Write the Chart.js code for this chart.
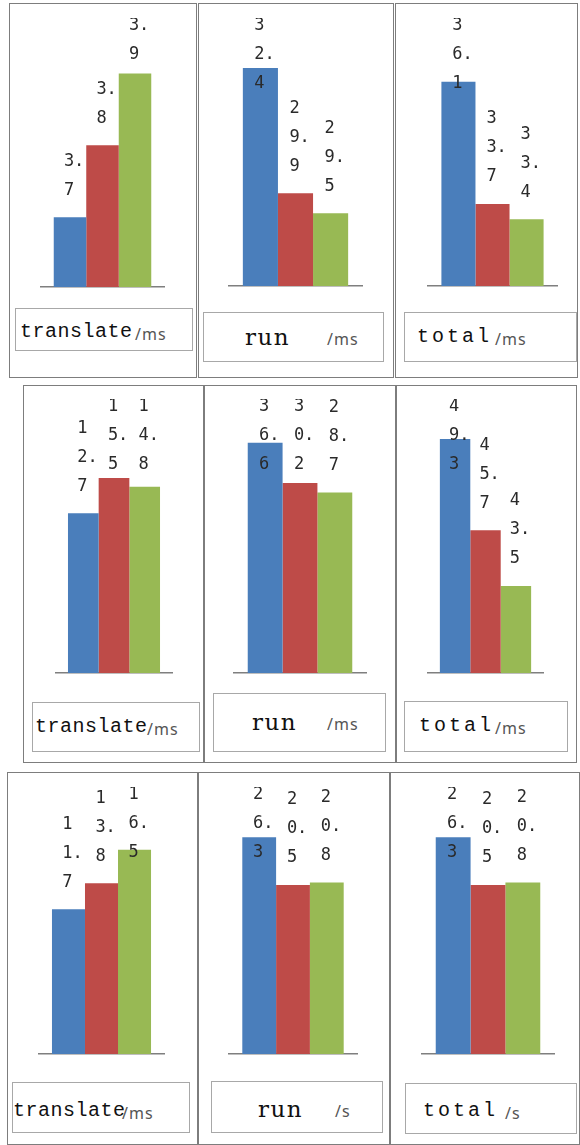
<!DOCTYPE html>
<html>
<head>
<meta charset="utf-8">
<script src="https://cdn.jsdelivr.net/npm/chart.js@4.4.1/dist/chart.umd.min.js"></script>
<style>
  html, body { margin: 0; padding: 0; background: #fff; }
  body { width: 580px; height: 1145px; position: relative; overflow: hidden; }
  .frame { position: absolute; box-sizing: border-box; border: 1px solid #7d7d7d; }
  .cap { position: absolute; box-sizing: border-box; border: 1px solid #a8a8a8; }
  .word { position: absolute; white-space: nowrap; line-height: 1; transform: translateY(-50%);
          font-family: "Liberation Mono", monospace; font-size: 20px; color: #111; }
  .word.serif { font-family: "DejaVu Serif", serif; font-size: 23px; letter-spacing: 1.5px; }
  .unit { position: absolute; white-space: nowrap; line-height: 1; transform: translateY(-50%);
          font-family: "Noto Sans", sans-serif; font-size: 16px; color: #555; letter-spacing: 1px; }
  canvas { position: absolute; }
</style>
</head>
<body>
<script>
// Nine small panels, read left to right, top to bottom.
const metricNames = ['translate', 'run', 'total', 'translate', 'run', 'total', 'translate', 'run', 'total'];
const unitNames   = ['ms', 'ms', 'ms', 'ms', 'ms', 'ms', 'ms', 's', 's'];

const blueSeries  = [3.7, 32.4, 36.1, 12.7, 36.6, 49.3, 11.7, 26.3, 26.3];
const redSeries   = [3.8, 29.9, 33.7, 15.5, 30.2, 45.7, 13.8, 20.5, 20.5];
const greenSeries = [3.9, 29.5, 33.4, 14.8, 28.7, 43.5, 16.5, 20.8, 20.8];

// value-axis range of each panel (the axis itself is hidden)
const axisMin = [3.603, 28.05, 32.09, 0, 0, 40.06, 0, 0, 0];
const axisMax = [3.977, 33.40, 37.35, 21.78, 43.56, 50.88, 21.57, 32.4, 32.4];

const seriesColors = ['#4a7ebb', '#be4b48', '#98b954'];

// page layout of each panel: frame box, plot box (left, top, width, baseline), caption box, caption text spots
const layout = [
  { frame: [9, 3, 188, 375],   plot: [40, 18, 125, 287],   cap: [15, 308, 178, 43],  word: [20, 332],  unit: [135, 334] },
  { frame: [198, 3, 196, 375], plot: [228, 18, 135, 286],  cap: [203, 312, 181, 50], word: [245, 337], unit: [327, 339] },
  { frame: [395, 3, 183, 375], plot: [427, 18, 131, 286],  cap: [404, 312, 173, 50], word: [417, 337], unit: [495, 339] },
  { frame: [23, 385, 181, 378],  plot: [55, 399, 118, 673],  cap: [32, 702, 168, 50],  word: [35, 727],  unit: [147, 729] },
  { frame: [204, 385, 192, 378], plot: [233, 399, 134, 673], cap: [213, 693, 173, 59], word: [252, 722], unit: [327, 724] },
  { frame: [396, 385, 181, 378], plot: [427, 399, 117, 673], cap: [404, 701, 164, 51], word: [419, 726], unit: [495, 728] },
  { frame: [7, 772, 191, 373],   plot: [38, 787, 127, 1054],  cap: [12, 1082, 178, 51], word: [13, 1111],  unit: [122, 1113] },
  { frame: [198, 772, 192, 373], plot: [228, 787, 130, 1054], cap: [211, 1081, 172, 52], word: [258, 1109], unit: [335, 1111] },
  { frame: [390, 772, 190, 373], plot: [421, 787, 134, 1054], cap: [405, 1083, 172, 51], word: [423, 1111], unit: [505, 1113] }
];

const LINE_STEP = 29;   // vertical distance between wrapped label lines
const LABEL_GAP = 27;   // distance from bar top to the centre of the last label line
const FIRST_MIN = 8;    // first line centre never sits higher than plot top + this

// Data labels are wrapped to a narrow column: one digit per line, the decimal point rides with its digit.
function wrapLabel(v) {
  const out = [];
  for (const ch of v.toFixed(1)) {
    if (ch === '.' && out.length) out[out.length - 1] += '.';
    else out.push(ch);
  }
  return out;
}

const valueLabels = {
  id: 'valueLabels',
  afterDatasetsDraw(chart) {
    const ctx = chart.ctx;
    const top = chart.chartArea.top;
    ctx.save();
    ctx.font = '17px "DejaVu Sans Mono", monospace';
    ctx.fillStyle = '#2a2a2a';
    ctx.textAlign = 'left';
    ctx.textBaseline = 'middle';
    const digitW = ctx.measureText('0').width;
    chart.data.datasets.forEach((ds, di) => {
      const bar = chart.getDatasetMeta(di).data[0];
      const lines = wrapLabel(ds.data[0]);
      let first = bar.y - LABEL_GAP - (lines.length - 1) * LINE_STEP;
      if (first < top + FIRST_MIN) first = top + FIRST_MIN;
      lines.forEach((t, i) => {
        ctx.fillText(t, bar.x - 1 - digitW / 2, first + i * LINE_STEP);
      });
    });
    ctx.restore();
  }
};

function addBox(cls, r) {
  const d = document.createElement('div');
  d.className = cls;
  d.style.left = r[0] + 'px'; d.style.top = r[1] + 'px';
  d.style.width = r[2] + 'px'; d.style.height = r[3] + 'px';
  document.body.appendChild(d);
}

function addText(cls, text, pos, extra) {
  const s = document.createElement('div');
  s.className = cls;
  s.textContent = text;
  s.style.left = pos[0] + 'px';
  s.style.top = pos[1] + 'px';
  if (extra) Object.assign(s.style, extra);
  document.body.appendChild(s);
}

layout.forEach((L, i) => {
  addBox('frame', L.frame);
  addBox('cap', L.cap);
  const name = metricNames[i];
  if (name === 'run') addText('word serif', name, L.word);
  else addText('word', name, L.word, { letterSpacing: name === 'translate' ? '0.5px' : '3px' });
  addText('unit', '/' + unitNames[i], L.unit);

  const [left, top, width, baseline] = L.plot;
  const cv = document.createElement('canvas');
  cv.width = width;
  cv.height = baseline - top + 2;
  cv.style.left = left + 'px';
  cv.style.top = top + 'px';
  document.body.appendChild(cv);

  new Chart(cv, {
    type: 'bar',
    data: {
      labels: [name],
      datasets: [
        { data: [blueSeries[i]],  backgroundColor: seriesColors[0] },
        { data: [redSeries[i]],   backgroundColor: seriesColors[1] },
        { data: [greenSeries[i]], backgroundColor: seriesColors[2] }
      ]
    },
    options: {
      responsive: false,
      animation: false,
      events: [],
      layout: { padding: { top: 0, right: 0, bottom: 2, left: 0 } },
      datasets: { bar: { categoryPercentage: 0.78, barPercentage: 1, borderWidth: 0 } },
      plugins: { legend: { display: false }, tooltip: { enabled: false } },
      scales: {
        x: {
          grid: { display: false, drawTicks: false },
          ticks: { display: false },
          border: { display: true, color: '#7f7f7f', width: 1.5 }
        },
        y: { display: false, min: axisMin[i], max: axisMax[i] }
      }
    },
    plugins: [valueLabels]
  });
});
</script>
</body>
</html>
